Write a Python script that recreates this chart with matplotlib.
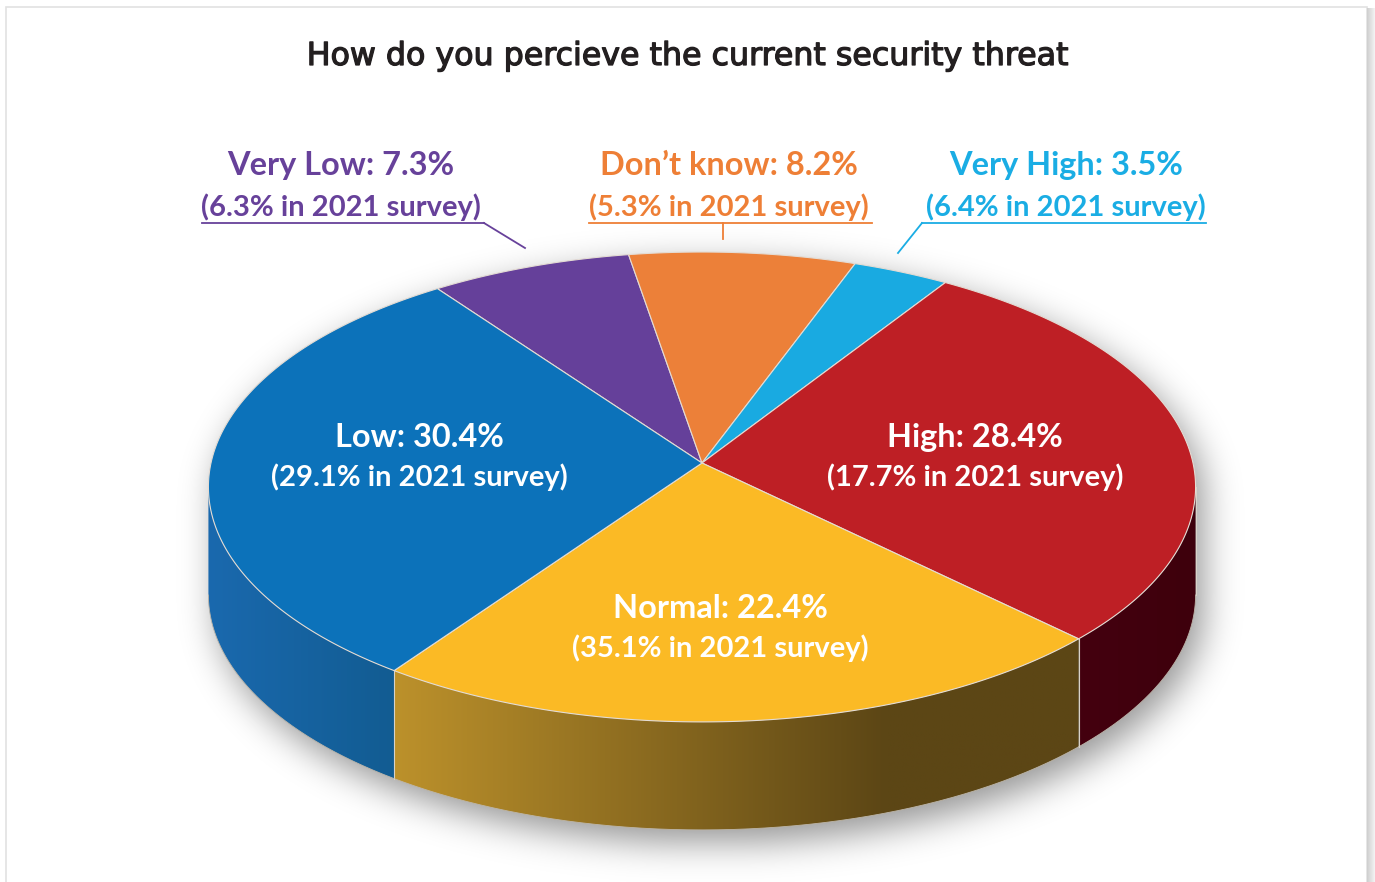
import numpy as np
import matplotlib
matplotlib.use("Agg")
import matplotlib.pyplot as plt
import matplotlib.patheffects as pe
from matplotlib.path import Path
from matplotlib.patches import Polygon, Rectangle
from matplotlib.colors import LinearSegmentedColormap

# survey shares, in the order the slices run clockwise from the back
labels = ["Very Low", "Don’t know", "Very High", "High", "Normal", "Low"]
share_now = [7.3, 8.2, 3.5, 28.4, 22.4, 30.4]
share_2021 = [6.3, 5.3, 6.4, 17.7, 35.1, 29.1]
top_colors = ["#65409A", "#EC8039", "#19AAE1", "#BE1F25", "#FBBA25", "#0C72BA"]
# side wall colours (left end, right end of the gradient)
wall_colors = [("#3F2663", "#35204F"), ("#9C5423", "#86461C"), ("#0E7099", "#0B5F82"),
               ("#44000F", "#3E000C"), ("#BC912B", "#5C4615"), ("#1A69AE", "#125C92")]
text_colors = ["#67419A", "#EE7F36", "#1AADE4", "white", "white", "white"]

title = "How do you percieve the current security threat"

W, H = 1375, 882
CX, CY = 702, 463          # centre of the disc on screen
RX, RY = 491, 232.5        # radii of the top face
PERSP = -0.102             # perspective foreshortening
DEPTH = 108                # thickness of the disc
START = -35.7              # angle where the first slice begins (clockwise from back)


def project(phi, r=1.0, drop=0.0):
    p = np.radians(phi)
    u = r * np.sin(p)
    v = -r * np.cos(p)
    w = 1 + PERSP * v
    return CX + RX * u / w, CY + RY * v / w + drop


def arc(a0, a1, drop=0.0, n=200):
    phi = np.linspace(a0, a1, n)
    x, y = project(phi, drop=drop)
    return np.column_stack([x, y])


def blur(img, sigma):
    k = np.arange(-3 * sigma, 3 * sigma + 1)
    k = np.exp(-k ** 2 / (2 * sigma ** 2))
    k /= k.sum()
    img = np.apply_along_axis(lambda r: np.convolve(r, k, mode="same"), 1, img)
    img = np.apply_along_axis(lambda c: np.convolve(c, k, mode="same"), 0, img)
    return img


fig = plt.figure(figsize=(W / 100, H / 100), dpi=100)
ax = fig.add_axes([0, 0, 1, 1])
ax.set_xlim(0, W)
ax.set_ylim(H, 0)
ax.axis("off")

# card background with a thin frame and a shadow on the right
ax.add_patch(Rectangle((6.5, 6.5), 1361, 880, facecolor="white", edgecolor="#e2e2e2", lw=1.2, zorder=0))
side = np.linspace(0, 1, 16)[None, :]
ax.imshow(side, cmap=LinearSegmentedColormap.from_list("s", ["#cfcfcf", "#f4f4f4"]),
          extent=[1367.5, 1375, H, 8], aspect="auto", zorder=0.5)

# slice boundaries
sweep = np.array(share_now) / sum(share_now) * 360
bounds = START + np.concatenate([[0], np.cumsum(sweep)])
phi_r = np.degrees(np.arccos(PERSP))   # right silhouette tangent
phi_l = 360 - phi_r                    # left silhouette tangent

# soft drop shadow under the disc
outline = np.vstack([arc(phi_l - 360, phi_r), arc(phi_r, phi_l, drop=DEPTH)])
step = 2
gy, gx = np.mgrid[0:H:step, 0:W:step]
pts = np.column_stack([gx.ravel() - 8, gy.ravel() - 12])
mask = Path(outline).contains_points(pts).reshape(gx.shape).astype(float)
shade = blur(mask, 9)
rgba = np.zeros(shade.shape + (4,))
rgba[..., 3] = shade * 0.42
ax.imshow(rgba, extent=[0, W, H, 0], zorder=1, interpolation="bilinear")

# front walls with a horizontal gradient
for i in range(len(labels)):
    a0, a1 = max(bounds[i], phi_r), min(bounds[i + 1], phi_l)
    if a1 <= a0:
        continue
    poly = np.vstack([arc(a0, a1), arc(a0, a1, drop=DEPTH)[::-1]])
    patch = Polygon(poly, closed=True, facecolor="none", edgecolor="none")
    ax.add_patch(patch)
    x0, x1 = poly[:, 0].min(), poly[:, 0].max()
    y0, y1 = poly[:, 1].min(), poly[:, 1].max()
    c0, c1 = wall_colors[i]
    if labels[i] == "Normal":
        cmap = LinearSegmentedColormap.from_list("w", [(0, c0), (0.72, c1), (1, c1)])
    else:
        cmap = LinearSegmentedColormap.from_list("w", [c0, c1])
    im = ax.imshow(np.linspace(0, 1, 256)[None, :], cmap=cmap, extent=[x0, x1, y1, y0],
                   aspect="auto", zorder=2)
    im.set_clip_path(patch)
    ax.plot(poly[[0, -1], 0], poly[[0, -1], 1], color="#d8d2c8", lw=0.8, zorder=2.5)
    ax.plot(*arc(a0, a1, drop=DEPTH).T, color="#bdb6aa", lw=0.6, zorder=2.5)

# top face wedges
for i in range(len(labels)):
    ring = arc(bounds[i], bounds[i + 1])
    poly = np.vstack([[CX, CY], ring])
    ax.add_patch(Polygon(poly, closed=True, facecolor=top_colors[i],
                         edgecolor="#e4dcd4", lw=0.8, joinstyle="round", zorder=3))

# title, thickened slightly with a stroke of the same colour
ax.text(687, 65, title, ha="center", va="baseline", fontsize=22.8, color="#231F20",
        family="DejaVu Sans", fontweight="normal", zorder=5,
        path_effects=[pe.withStroke(linewidth=0.9, foreground="#231F20")])

label_font = dict(family="Lato", fontweight="bold", ha="center", va="baseline", zorder=5)

# labels on the disc
inside = {"High": (975, 447, 486), "Normal": (720, 618, 657), "Low": (419, 447, 486)}
for i, name in enumerate(labels):
    if name in inside:
        x, y1, y2 = inside[name]
        ax.text(x, y1, f"{name}: {share_now[i]}%", fontsize=23.4, color=text_colors[i], **label_font)
        ax.text(x, y2, f"({share_2021[i]}% in 2021 survey)", fontsize=21, color=text_colors[i], **label_font)

# labels outside with underline leaders
outside = {
    "Very Low": (341, [(484, 223), (202, 223)], (484, 223), (525, 248)),
    "Don’t know": (729, [(589, 223), (872, 223)], (723, 223), (723, 239)),
    "Very High": (1066, [(922, 223), (1206, 223)], (922, 223), (898, 253)),
}
for i, name in enumerate(labels):
    if name in outside:
        x, under, p0, p1 = outside[name]
        c = text_colors[i]
        ax.text(x, 175, f"{name}: {share_now[i]}%", fontsize=23.4, color=c, **label_font)
        ax.text(x, 216, f"({share_2021[i]}% in 2021 survey)", fontsize=21, color=c, **label_font)
        ax.plot([under[0][0], under[1][0]], [under[0][1], under[1][1]], color=c, lw=1.3, zorder=5)
        ax.plot([p0[0], p1[0]], [p0[1], p1[1]], color=c, lw=1.3, zorder=5)

fig.savefig("out.png", dpi=100)
